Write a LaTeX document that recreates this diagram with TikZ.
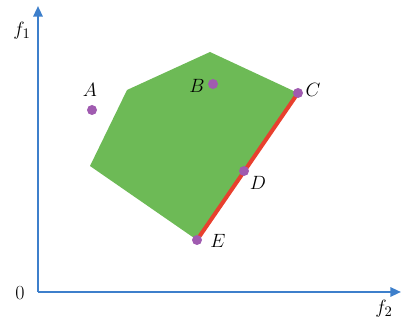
\documentclass[tikz,border=0pt]{standalone}
\usetikzlibrary{arrows.meta}
\definecolor{axisblue}{HTML}{3D7FCB}
\definecolor{regiongreen}{HTML}{6DBA56}
\definecolor{frontred}{HTML}{E8402E}
\definecolor{dotpurple}{HTML}{A05BB0}
\tikzset{
  axis/.style={axisblue, line width=1.6pt, -{Triangle[length=8pt,width=7pt]}},
  pt/.style={circle, fill=dotpurple, inner sep=0pt, minimum size=7.5pt},
  lbl/.style={font=\fontsize{15}{17}\selectfont, inner sep=1pt},
}
\begin{document}
\begin{tikzpicture}[x=0.75pt,y=-0.75pt]
\useasboundingbox (0,0) rectangle (401,320);
\coordinate (O) at (38,292);
\coordinate (Ytip) at (38,6);
\coordinate (Xtip) at (401,292);
\draw[axis] (O) -- (Ytip);
\draw[axis] (O) -- (Xtip);
\node[lbl] (f1) at (22,31) {$f_1$};
\node[lbl] (f2) at (384,309) {$f_2$};
\node[lbl] (zero) at (20,293) {0};
% region
\coordinate (P1) at (127,90);
\coordinate (P2) at (210,52);
\coordinate (P3) at (298,93);
\coordinate (P4) at (197,240);
\coordinate (P5) at (90,166);
\fill[regiongreen] (P1) -- (P2) -- (P3) -- (P4) -- (P5) -- cycle;
\draw[frontred, line width=3pt] (P4) -- (P3);
\node[pt] (A) at (92,110) {};
\node[pt] (B) at (213,84) {};
\node[pt] (C) at (298,93) {};
\node[pt] (D) at (244,171) {};
\node[pt] (E) at (197,240) {};
\node[lbl] (lA) at (90,90) {$A$};
\node[lbl] (lB) at (197,86) {$B$};
\node[lbl] (lC) at (313,90) {$C$};
\node[lbl] (lD) at (258,183) {$D$};
\node[lbl] (lE) at (218,241) {$E$};
\end{tikzpicture}
\end{document}
